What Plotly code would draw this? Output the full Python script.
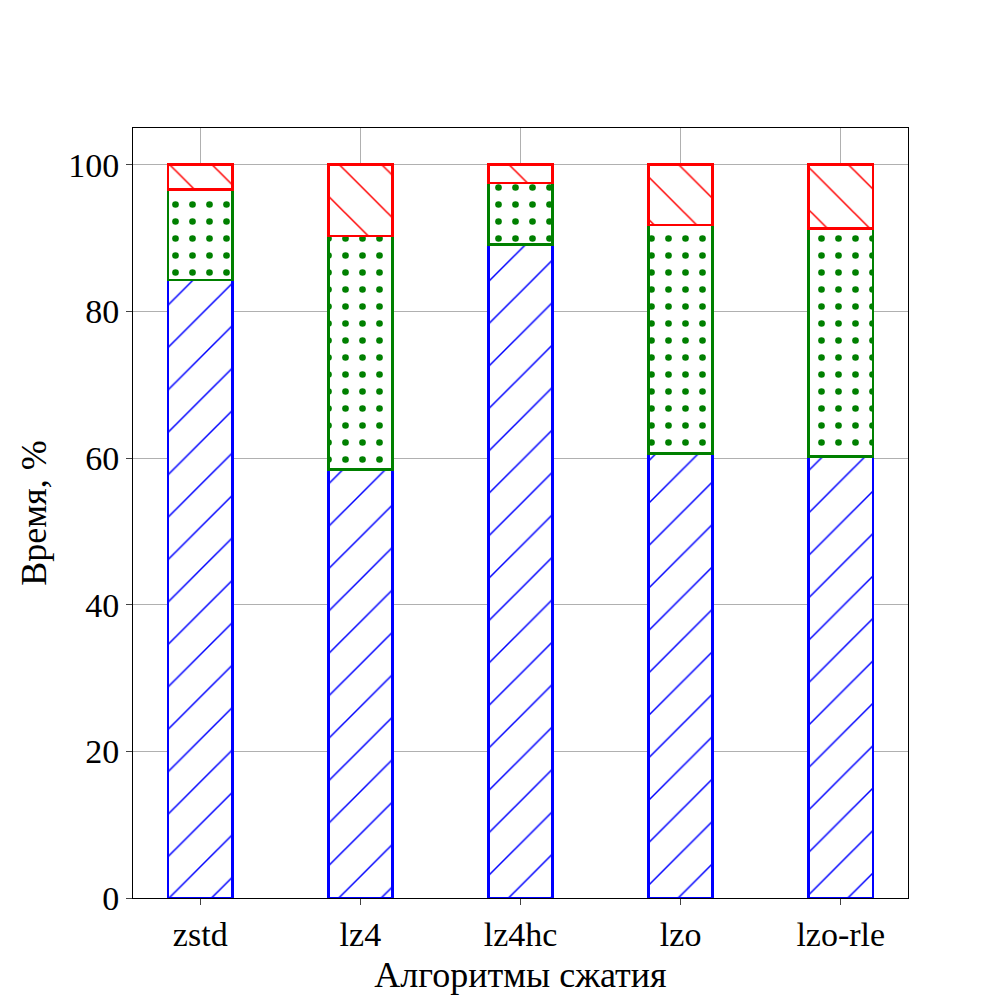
import plotly.graph_objects as go

algorithms = ["zstd", "lz4", "lz4hc", "lzo", "lzo-rle"]
part1 = [84.3, 58.4, 89.1, 60.6, 60.2]
part2 = [12.3, 31.9, 8.4, 31.2, 31.1]
part3 = [100 - a - b for a, b in zip(part1, part2)]

x = list(range(len(algorithms)))
fig = go.Figure()
for vals, col, shape, size, sol in [(part1, "blue", "/", 30, 0.05),
                                    (part2, "green", ".", 17, 0.12),
                                    (part3, "red", "\\", 30, 0.05)]:
    fig.add_trace(go.Bar(
        x=x, y=vals, width=0.4,
        marker=dict(color="white", line=dict(color=col, width=2.5),
                    pattern=dict(shape=shape, fgcolor=col, bgcolor="white", fgopacity=1,
                                 size=size, solidity=sol)),
        showlegend=False,
    ))

font = "Liberation Serif"
fig.update_layout(
    barmode="stack", width=1000, height=1000,
    margin=dict(l=125, r=100, t=120, b=110),
    plot_bgcolor="white", paper_bgcolor="white",
    font=dict(family=font, size=34, color="black"),
)
fig.update_xaxes(range=[-0.42, 4.42], tickvals=x, ticktext=algorithms, automargin=False,
                 showgrid=True, gridcolor="#b0b0b0", showline=True, linecolor="black",
                 mirror=True, ticks="outside", ticklen=6,
                 title=dict(text="Алгоритмы сжатия", font=dict(size=36), standoff=10),
                 tickfont=dict(size=34))
fig.update_yaxes(range=[0, 105], tickvals=[0, 20, 40, 60, 80, 100], automargin=False,
                 showgrid=True, gridcolor="#b0b0b0", showline=True, linecolor="black",
                 mirror=True, ticks="outside", ticklen=6, zeroline=False,
                 title=dict(text="Время, %", font=dict(size=36), standoff=10),
                 tickfont=dict(size=34))
fig.write_html("out.html")
